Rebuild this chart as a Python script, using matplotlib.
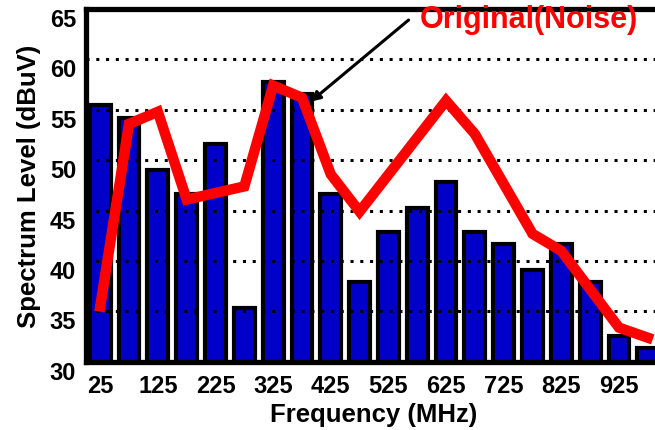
import numpy as np
import matplotlib
matplotlib.use("Agg")
import matplotlib.pyplot as plt
import matplotlib.transforms as mtrans

plt.rcParams['font.family'] = ['Liberation Sans', 'DejaVu Sans']
plt.rcParams['font.weight'] = 'bold'

# bar data (MHz, dBuV)
freqs = [25, 75, 125, 175, 225, 275, 325, 375, 425, 475,
         525, 575, 625, 675, 725, 775, 825, 875, 925, 975]
levels = [55.5, 54.2, 49.0, 46.6, 51.6, 35.3, 57.8, 56.6, 46.6, 37.9,
          42.9, 45.3, 47.8, 42.9, 41.7, 39.1, 41.7, 37.9, 32.6, 31.4]

# red "Original(Noise)" trace, corner points
noise_f = [25, 75, 125, 175, 275, 325, 375, 425, 475, 625, 675, 775, 825, 925, 975]
noise_l = [35.5, 53.6, 54.8, 46.1, 47.4, 57.4, 56.2, 48.6, 44.9, 55.9, 52.6, 42.7, 41.0, 33.4, 32.4]

xticks = [25, 125, 225, 325, 425, 525, 625, 725, 825, 925]
yticks = [30, 35, 40, 45, 50, 55, 60, 65]

fig = plt.figure(figsize=(6.55, 4.31), dpi=100)
ax = fig.add_axes([0.131, 0.158, 0.88, 0.819])

ax.bar(freqs, levels, width=36, bottom=0, color='#0000c8', edgecolor='black',
       linewidth=3, zorder=2)

# dotted horizontal grid drawn over the bars
for v in yticks[1:-1]:
    ax.axhline(v, color='black', linestyle=(0, (1, 2.2)), linewidth=2.2, zorder=3)

ax.plot(noise_f, noise_l, color='red', linewidth=7.5, solid_joinstyle='miter', zorder=4)

# arrow + label
ax.annotate('', xy=(390, 55.8), xytext=(560, 63.9),
            arrowprops=dict(arrowstyle='-|>', color='black', lw=2.2, shrinkA=0, shrinkB=0,
                            mutation_scale=14), zorder=5, annotation_clip=False)
ax.text(768, 64.0, 'Original(Noise)', color='red', fontsize=22, fontweight='bold',
        ha='center', va='center', zorder=5)

ax.set_xlim(0, 1000)
ax.set_ylim(30, 65)
ax.set_xticks(xticks)
ax.set_yticks(yticks)
ax.tick_params(axis='both', length=0, labelsize=17)
ax.tick_params(axis='x', pad=9)
ax.tick_params(axis='y', pad=7)
shift = mtrans.ScaledTranslation(0, -8 / 100, fig.dpi_scale_trans)
for lab in ax.get_yticklabels():
    lab.set_transform(lab.get_transform() + shift)
for lab in ax.get_xticklabels() + ax.get_yticklabels():
    lab.set_fontweight('bold')

for s in ax.spines.values():
    s.set_linewidth(3.8)

ax.set_xlabel('Frequency (MHz)', fontsize=18.5, fontweight='bold', labelpad=3)
ax.set_ylabel('Spectrum Level (dBuV)', fontsize=18.5, fontweight='bold', labelpad=6)

fig.savefig('out.png', dpi=100)
